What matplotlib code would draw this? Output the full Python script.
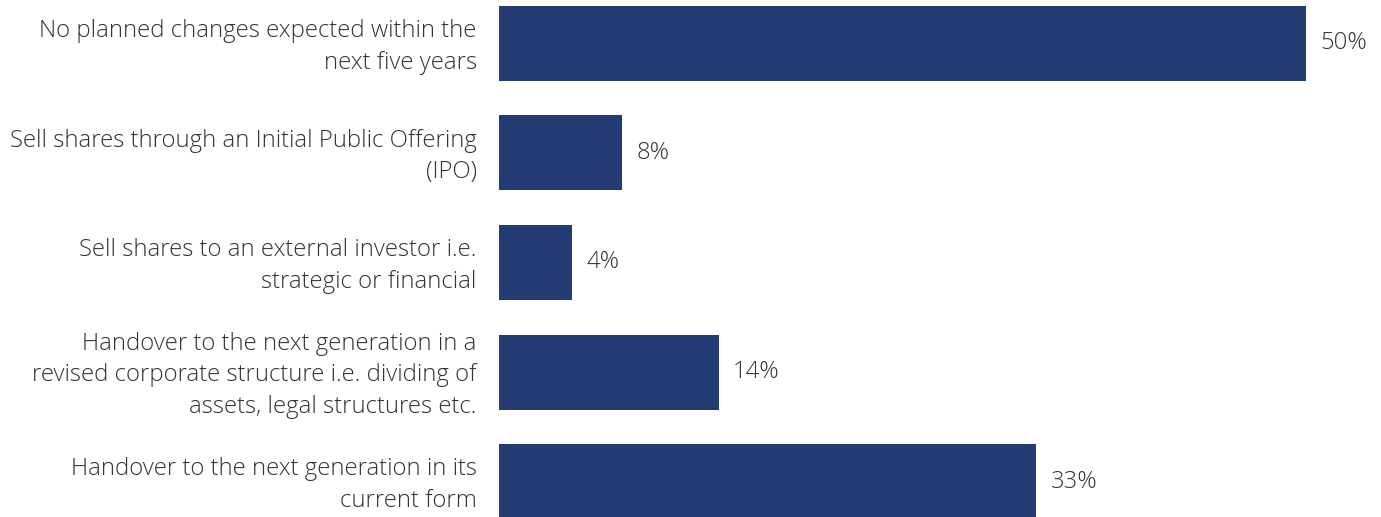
import matplotlib.pyplot as plt

# Data
categories = [
    "No planned changes expected within the\nnext five years",
    "Sell shares through an Initial Public Offering\n(IPO)",
    "Sell shares to an external investor i.e.\nstrategic or financial",
    "Handover to the next generation in a\nrevised corporate structure i.e. dividing of\nassets, legal structures etc.",
    "Handover to the next generation in its\ncurrent form",
]
values = [50, 7.6, 4.5, 13.6, 33.3]
value_labels = ["50%", "8%", "4%", "14%", "33%"]

bar_color = "#223b73"
text_color = "#333333"

plt.rcParams["font.family"] = ["Open Sans", "DejaVu Sans"]

fig = plt.figure(figsize=(13.81, 5.17), dpi=100)
ax = fig.add_axes([499 / 1381, 0, 882 / 1381, 1])

pos = list(range(len(categories)))
ax.barh(pos, values, height=0.685, color=bar_color)

# value labels right of the bars
for p, v, lab in zip(pos, values, value_labels):
    ax.annotate(lab, (v, p), xytext=(10.5, 0), textcoords="offset points",
                va="center", ha="left", fontsize=17.2, color=text_color,
                fontweight="light")

# category labels left of the bars
for p, cat in zip(pos, categories):
    ax.annotate(cat, (0, p), xytext=(-16, 2.5), textcoords="offset points",
                va="center_baseline", ha="right", multialignment="right",
                fontsize=17.2, color=text_color, fontweight="light",
                linespacing=1.42, annotation_clip=False)

ax.set_yticks([])
ax.set_xticks([])
ax.set_xlim(0, 50 * 882 / 807)
ax.set_ylim(4.324, -0.397)
for s in ax.spines.values():
    s.set_visible(False)

fig.savefig("out.png", dpi=100)
